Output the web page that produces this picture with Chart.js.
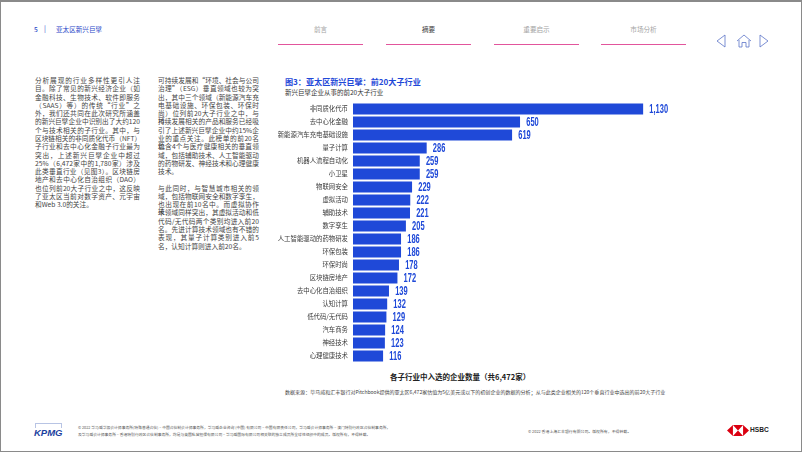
<!DOCTYPE html>
<html lang="zh">
<head>
<meta charset="utf-8">
<title>亚太区新兴巨擘</title>
<script src="https://cdn.jsdelivr.net/npm/chart.js@4"></script>
<style>
  html, body { margin: 0; padding: 0; background: #fff; }
  body { font-family: "Noto Sans CJK SC", "Noto Sans", sans-serif; }
  #page { position: relative; width: 800px; height: 449px; overflow: hidden; background: #fff;
          border: 1px solid #8a8a8a; border-top-width: 2px; border-bottom-width: 1px; }
  .t { position: absolute; white-space: nowrap; line-height: 1; }
  .line { position: absolute; white-space: nowrap; line-height: 1; font-size: 6.7px; color: #444; text-align: justify; text-align-last: justify; }
  .line.last { text-align-last: left; }
  .rule { position: absolute; top: 42px; height: 1px; width: 85px; background: #e2559c; }
  #chartBox { position: absolute; left: 269px; top: 98px; width: 400px; height: 266px; }
  svg { position: absolute; }
</style>
</head>
<body>
<div id="page">
  <div class="t" style="left:33px;top:24px;font-size:6.6px;color:#2a47c8;font-weight:500">5</div>
  <div class="t" style="left:43px;top:23px;font-size:7px;color:#2a47c8">|</div>
  <div class="t" style="left:55px;top:24px;font-size:6.6px;color:#2a47c8">亚太区新兴巨擘</div>

  <div id="nav"></div>

  <svg style="left:714px;top:31px" width="56" height="16" viewBox="0 0 56 16" fill="none" stroke="#5c74c8" stroke-width="0.8">
    <path d="M10 2 L2 8 L10 14 Z"/>
    <path d="M22 8 L29 2 L36 8 M24 7 V14 H27 V9.5 H31 V14 H34 V7"/>
    <path d="M45 2 L53 8 L45 14 Z"/>
  </svg>

  <div id="body"></div>

  <div class="t" style="left:284px;top:76px;font-size:8.1px;font-weight:700;color:#1f49d8">图3：亚太区新兴巨擘：前20大子行业</div>
  <div class="t" style="left:284px;top:87px;font-size:6.5px;color:#333">新兴巨擘企业从事的前20大子行业</div>

  <div id="chartBox"><canvas id="chart1" width="400" height="266"></canvas></div>

  <div class="t" style="left:389px;top:371px;font-size:7.5px;font-weight:700;color:#222">各子行业中入选的企业数量（共6,472家）</div>
  <div class="t" style="left:284px;top:387px;font-size:5.04px;color:#444">数据来源：毕马威和汇丰银行对Pitchbook提供的亚太区6,472家估值为5亿美元或以下的初创企业的数据的分析；从与此类企业相关的120个垂直行业中选出的前20大子行业</div>

  <div style="position:absolute;left:34px;top:421px;width:27px;height:5px;border:1px solid #b8c4e4;border-bottom:none;box-sizing:border-box"></div>
  <div class="t" style="left:33px;top:426px;font-size:9.5px;font-weight:700;font-style:italic;color:#1b3fa0;font-family:'Liberation Sans'">KPMG</div>
  <div class="t" style="left:77px;top:424px;font-size:3.8px;color:#555">© 2022 毕马威华振会计师事务所(特殊普通合伙) – 中国合伙制会计师事务所，毕马威企业咨询 (中国) 有限公司 – 中国有限责任公司，毕马威会计师事务所 – 澳门特别行政区合伙制事务所，</div>
  <div class="t" style="left:77px;top:431px;font-size:3.8px;color:#555">及毕马威会计师事务所 – 香港特别行政区合伙制事务所，均是与英国私营担保有限公司 – 毕马威国际有限公司相关联的独立成员所全球性组织中的成员。版权所有，不得转载。</div>
  <div class="t" style="left:527px;top:428px;font-size:3.9px;color:#555">© 2022 香港上海汇丰银行有限公司。版权所有，不得转载。</div>

  <svg style="left:726px;top:423px" width="22" height="11" viewBox="0 0 26 14" preserveAspectRatio="none">
    <path d="M0 7 L7 0 V14 Z M26 7 L19 0 V14 Z M7 0 H19 L13 7 Z M7 14 H19 L13 7 Z" fill="#db0011"/>
  </svg>
  <div class="t" style="left:749px;top:425px;font-size:6.6px;font-weight:700;color:#222;font-family:'Liberation Sans'">HSBC</div>
</div>

<script>
// chart values
const categories = ['非同质化代币', '去中心化金融', '新能源汽车充电基础设施', '量子计算', '机器人流程自动化', '小卫星',
  '物联网安全', '虚拟活动', '辅助技术', '数字孪生', '人工智能驱动的药物研发', '环保包装', '环保时尚', '区块链房地产',
  '去中心化自治组织', '认知计算', '低代码/无代码', '汽车商务', '神经技术', '心理健康技术'];
const companyCounts = [1130, 650, 619, 286, 259, 259, 229, 222, 221, 205, 186, 186, 178, 172, 139, 132, 129, 124, 123, 116];

const navLabels = ['前言', '摘要', '重要启示', '市场分析'];

const column1 = ['分析展现的行业多样性更引人注', '目。除了常见的新兴经济企业（如', '金融科技、生物技术、软件即服务',
  '（SAAS）等）的传统“行业”之', '外，我们还共同在此次研究所涵盖', '的新兴巨擘企业中识别出了大约120', '个与技术相关的子行业。其中，与',
  '区块链相关的非同质化代币（NFT）', '子行业和去中心化金融子行业最为', '突出，上述新兴巨擘企业中超过', '25%（6,472家中的1,780家）涉及',
  '此类垂直行业（见图3）。区块链房', '地产和去中心化自治组织（DAO）', '也位列前20大子行业之中，这反映', '了亚太区当前对数字资产、元宇宙',
  '和Web 3.0的关注。'];
const column2 = ['可持续发展和“环境、社会与公司', '治理”（ESG）垂直领域也较为突', '出，其中三个领域（新能源汽车充', '电基础设施、环保包装、环保时',
  '尚）位列前20大子行业之中，与可', '持续发展相关的产品和服务已经吸', '引了上述新兴巨擘企业中约15%企', '业的重点关注。此榜单的前20名还',
  '包含4个与医疗健康相关的垂直领', '域，包括辅助技术、人工智能驱动', '的药物研发、神经技术和心理健康', '技术。', '',
  '与此同时，与智慧城市相关的领', '域，包括物联网安全和数字孪生，', '也出现在前10名中。而虚拟协作技', '术领域同样突出，其虚拟活动和低',
  '代码/无代码两个类别均进入前20', '名。先进计算技术领域也有不错的', '表现，其量子计算类别进入前5', '名，认知计算则进入前20名。'];

// header nav
const nav = document.getElementById('nav');
const navLeft = [277, 385, 493, 600];
navLabels.forEach((label, i) => {
  const rule = document.createElement('div');
  rule.className = 'rule';
  rule.style.left = navLeft[i] + 'px';
  nav.appendChild(rule);
  const t = document.createElement('div');
  t.className = 't';
  t.textContent = label;
  t.style.cssText = 'left:' + navLeft[i] + 'px;width:85px;text-align:center;top:24px;font-size:6.6px;color:' + (i === 1 ? '#444' : '#a5a5a5');
  nav.appendChild(t);
});

// body text columns
function addColumn(lines, left, width) {
  const holder = document.getElementById('body');
  lines.forEach((text, i) => {
    if (!text) return;
    const div = document.createElement('div');
    const isLast = i === lines.length - 1 || !lines[i + 1];
    div.className = isLast ? 'line last' : 'line';
    div.textContent = text;
    div.style.left = left + 'px';
    div.style.top = (75 + i * 8.28) + 'px';
    div.style.width = width + 'px';
    div.style.whiteSpace = 'normal';
    holder.appendChild(div);
  });
}
addColumn(column1, 34, 105);
addColumn(column2, 157, 101);

// value labels at the bar ends, squeezed sideways since no condensed font is installed
const barValueLabels = {
  id: 'barValueLabels',
  afterDatasetsDraw(chart) {
    const ctx = chart.ctx;
    const bars = chart.getDatasetMeta(0).data;
    ctx.font = 'bold 12.5px "Liberation Sans"';
    ctx.fillStyle = '#1f49d8';
    ctx.textBaseline = 'middle';
    bars.forEach((bar, i) => {
      ctx.save();
      ctx.translate(bar.x + 6.5, bar.y + 0.5);
      ctx.scale(0.6, 1);
      ctx.fillText(companyCounts[i].toLocaleString('en-US'), 0, 0);
      ctx.restore();
    });
  }
};

const ctx = document.getElementById('chart1').getContext('2d');
new Chart(ctx, {
  type: 'bar',
  data: {
    labels: categories,
    datasets: [{
      data: companyCounts,
      backgroundColor: '#1f49d8',
      barThickness: 10.4
    }]
  },
  options: {
    indexAxis: 'y',
    responsive: false,
    animation: false,
    layout: { autoPadding: false, padding: { top: 2.5, bottom: 3.5 } },
    plugins: { legend: { display: false }, tooltip: { enabled: false } },
    scales: {
      x: { display: false, min: 0, max: 1236 },
      y: {
        afterFit(scale) { scale.width = 83; },
        grid: { display: false, drawTicks: true, tickLength: 5 },
        border: { display: false },
        ticks: {
          autoSkip: false,
          padding: 0,
          color: '#3a3a3a',
          font: { family: '"Noto Sans CJK SC"', size: 6.4, lineHeight: 0.01 } // tiny line height keeps the axis from padding the rows
        }
      }
    }
  },
  plugins: [barValueLabels]
});
</script>
</body>
</html>
